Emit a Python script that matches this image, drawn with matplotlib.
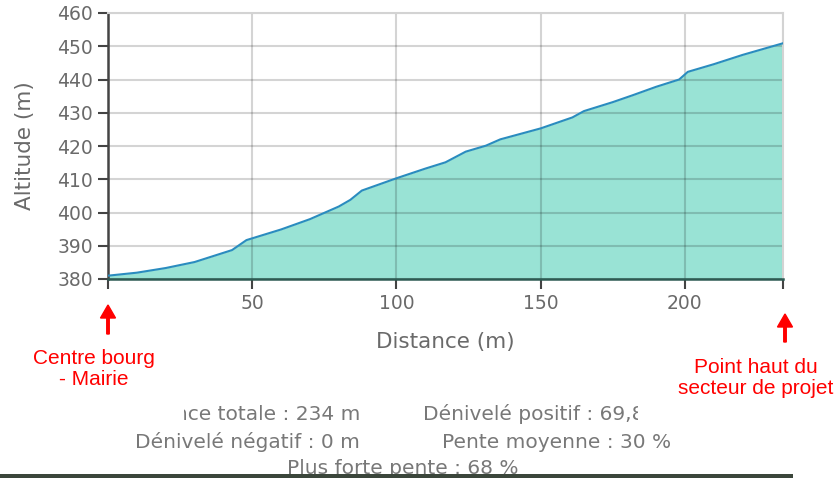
import matplotlib
matplotlib.use('Agg')
import matplotlib.pyplot as plt
from matplotlib.patches import FancyArrow
from matplotlib.transforms import Bbox, IdentityTransform

# elevation profile
distance = [0, 10, 20, 30, 43, 48, 60, 70, 80, 84, 88, 100, 110, 117, 124, 131, 136, 150, 161, 165, 175, 182, 190, 198, 201, 210, 220, 234]
altitude = [381.0, 381.9, 383.3, 385.1, 388.7, 391.7, 394.9, 398.0, 401.8, 403.8, 406.6, 410.3, 413.2, 415.1, 418.3, 420.1, 422.0, 425.3, 428.6, 430.5, 433.2, 435.3, 437.8, 440.0, 442.3, 444.6, 447.4, 450.9]

x_ticks = [50, 100, 150, 200]
y_ticks = [380, 390, 400, 410, 420, 430, 440, 450, 460]

stats_line1 = ['Distance totale : 234 m', 'Dénivelé positif : 69,8 m']
stats_line2 = ['Dénivelé négatif : 0 m', 'Pente moyenne : 30 %']
stats_line3 = 'Plus forte pente : 68 %'

W, H = 838, 478
gray = '#6a6a6a'

fig = plt.figure(figsize=(W / 100, H / 100), dpi=100)
ax = fig.add_axes([108 / W, 1 - 279 / H, 675 / W, 266 / H])

ax.fill_between(distance, altitude, 380, color='#99e3d5', linewidth=0, zorder=1)
ax.plot(distance, altitude, color='#2a8cbf', linewidth=1.5, zorder=3)

ax.set_xlim(0, 234)
ax.set_ylim(380, 460)
ax.set_xticks([0] + x_ticks + [234])
ax.set_xticklabels([''] + [str(v) for v in x_ticks] + [''])
ax.set_yticks(y_ticks)
ax.grid(True, color='black', alpha=0.17, linewidth=1.5)
ax.set_axisbelow('line')

ax.tick_params(axis='both', direction='out', length=7, width=1.5, color='#444444',
               labelsize=13.5, labelcolor=gray, pad=4)
ax.spines['left'].set_color('#444444')
ax.spines['left'].set_linewidth(1.8)
ax.spines['bottom'].set_color('#2d5a52')
ax.spines['bottom'].set_linewidth(1.8)
ax.spines['top'].set_color('#d3d3d3')
ax.spines['right'].set_color('#d3d3d3')
ax.spines['top'].set_linewidth(1.5)
ax.spines['right'].set_linewidth(1.5)

ax.set_xlabel('Distance (m)', fontsize=15.5, color=gray)
ax.set_ylabel('Altitude (m)', fontsize=15.5, color=gray)
ax.xaxis.set_label_coords(0.5, -0.2)
ax.yaxis.set_label_coords(-0.108, 0.5)


def px(x, y):
    return x / W, 1 - y / H


# red annotations (pixel coordinates, y from bottom)
for x0, y_tail, y_tip in [(108, 334, 305), (785, 342, 314)]:
    fig.add_artist(FancyArrow(x0, H - y_tail, 0, y_tail - y_tip, width=2.5, head_width=15,
                              head_length=13, length_includes_head=True, color='red',
                              transform=IdentityTransform()))
fig.text(*px(94, 369), 'Centre bourg\n- Mairie', color='red', fontsize=15,
         family='Liberation Sans', ha='center', va='center', linespacing=1.15)
fig.text(*px(756, 378), 'Point haut du\nsecteur de projet', color='red', fontsize=15,
         family='Liberation Sans', ha='center', va='center', linespacing=1.15)

# summary text under the chart, partly cut off
stat_font = dict(color='#787878', fontsize=14.5, va='center')
t = fig.text(*px(360, 414), stats_line1[0], ha='right', **stat_font)
t.set_clip_box(Bbox([[184, 0], [W, H]]))
t.set_clip_on(True)
t = fig.text(*px(423, 414), stats_line1[1], ha='left', **stat_font)
t.set_clip_box(Bbox([[0, 0], [638, H]]))
t.set_clip_on(True)
fig.text(*px(360, 442), stats_line2[0], ha='right', **stat_font)
fig.text(*px(442, 442), stats_line2[1], ha='left', **stat_font)
fig.text(*px(287, 469), stats_line3, ha='left', **stat_font)

# dark strip at the bottom edge
fig.add_artist(plt.Rectangle((0, 0), 793 / W, 4 / H, transform=fig.transFigure,
                             facecolor='#3b463b', edgecolor='none', zorder=10))

fig.savefig('out.png', dpi=100)
